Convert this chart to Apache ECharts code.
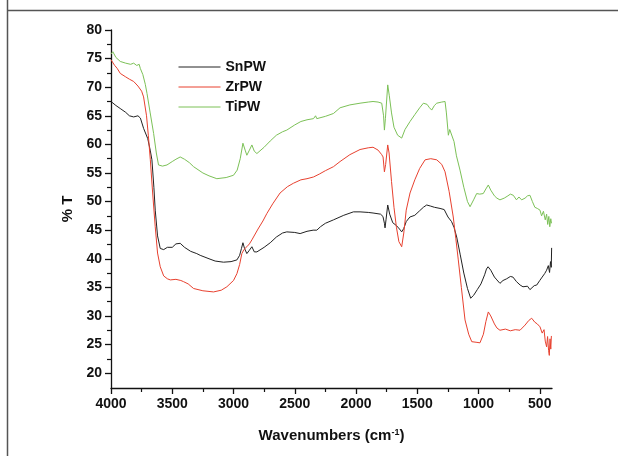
<!DOCTYPE html>
<html>
<head>
<meta charset="utf-8">
<script src="https://cdn.jsdelivr.net/npm/echarts@6/dist/echarts.min.js"></script>
<style>
  html, body { margin: 0; padding: 0; background: #fff; }
  #ftir { width: 618px; height: 456px; }
</style>
</head>
<body>
<div id="ftir"></div>
<script>
// tick positions
var xLabels = [4000, 3500, 3000, 2500, 2000, 1500, 1000, 500];
var xMinor = [3750, 3250, 2750, 2250, 1750, 1250, 750];
var yLabels = [20, 25, 30, 35, 40, 45, 50, 55, 60, 65, 70, 75, 80];
var yMinor = [22.5, 27.5, 32.5, 37.5, 42.5, 47.5, 52.5, 57.5, 62.5, 67.5, 72.5, 77.5];

var seriesNames = ["SnPW", "ZrPW", "TiPW"];

// [wavenumber, %T]
var snpw = [
  [4000,67.5],[3960,66.8],[3920,66.2],[3880,65.6],[3850,65.0],[3815,64.8],[3780,65.0],[3760,64.6],
  [3734,62.8],[3700,61.0],[3680,59.0],[3666,57.3],[3650,52.5],[3639,48.5],[3620,44.0],[3598,41.8],
  [3570,41.6],[3540,42.0],[3500,42.0],[3470,42.6],[3435,42.7],[3400,42.0],[3350,41.3],[3300,40.9],
  [3272,40.6],[3200,40.0],[3150,39.6],[3082,39.4],[3020,39.5],[2972,39.8],[2950,40.6],[2935,41.8],
  [2923,42.8],[2910,41.8],[2891,40.9],[2870,41.5],[2850,42.1],[2830,41.2],[2809,41.2],[2750,42.0],
  [2700,42.8],[2650,43.8],[2600,44.5],[2565,44.7],[2500,44.6],[2456,44.4],[2400,44.8],[2350,45.0],
  [2320,45.0],[2290,45.6],[2250,46.2],[2184,46.8],[2100,47.6],[2021,48.2],[1967,48.2],[1900,48.1],
  [1861,48.0],[1800,47.8],[1780,47.4],[1768,46.2],[1763,45.4],[1755,46.8],[1741,49.4],[1725,47.8],
  [1700,46.3],[1670,45.8],[1645,45.2],[1627,44.7],[1610,45.3],[1590,46.5],[1560,47.3],[1520,47.6],
  [1480,48.4],[1450,49.0],[1423,49.4],[1390,49.2],[1360,49.0],[1314,48.8],[1280,48.6],[1249,47.3],
  [1220,46.5],[1200,45.5],[1178,43.8],[1150,40.8],[1120,37.5],[1090,34.8],[1064,33.1],[1040,33.6],
  [1010,34.6],[980,35.6],[950,37.2],[935,38.2],[922,38.6],[900,38.0],[870,36.8],[850,36.3],
  [825,35.7],[800,36.2],[770,36.5],[740,36.9],[719,36.8],[690,36.0],[660,35.4],[637,35.1],
  [600,35.2],[580,34.6],[566,34.9],[545,35.3],[525,35.4],[500,36.2],[480,36.8],[460,37.4],
  [444,38.0],[430,38.8],[420,37.6],[412,39.5],[406,38.5],[403,41.9]
];
var zrpw = [
  [4000,74.8],[3970,73.8],[3950,73.3],[3924,72.4],[3880,71.8],[3850,71.4],[3815,71.0],[3780,70.2],
  [3750,69.3],[3734,68.3],[3710,65.0],[3695,61.5],[3679,57.3],[3660,51.5],[3639,45.6],[3620,41.0],
  [3598,38.6],[3570,37.0],[3540,36.5],[3516,36.3],[3470,36.4],[3430,36.2],[3408,36.0],[3370,35.6],
  [3326,34.8],[3250,34.4],[3163,34.2],[3100,34.5],[3054,35.1],[3000,36.2],[2972,37.4],[2950,39.0],
  [2932,40.9],[2915,41.6],[2891,42.1],[2870,42.6],[2850,43.3],[2800,45.2],[2760,46.6],[2728,47.9],
  [2680,49.6],[2620,51.5],[2560,52.6],[2511,53.2],[2450,53.8],[2400,54.0],[2347,54.3],[2300,54.8],
  [2250,55.4],[2184,56.1],[2130,57.0],[2050,58.2],[1967,59.1],[1900,59.4],[1861,59.5],[1820,59.0],
  [1790,58.2],[1779,57.8],[1768,55.2],[1758,56.5],[1741,59.9],[1730,58.5],[1710,53.5],[1690,49.0],
  [1670,45.5],[1650,43.0],[1627,42.1],[1610,44.5],[1590,48.5],[1559,51.5],[1520,53.8],[1480,55.8],
  [1436,57.3],[1390,57.5],[1341,57.3],[1300,56.5],[1273,55.2],[1240,51.8],[1206,47.3],[1185,43.5],
  [1165,39.8],[1140,35.0],[1110,29.3],[1080,26.8],[1055,25.5],[1020,25.4],[988,25.3],[960,26.8],
  [940,29.0],[920,30.7],[900,30.0],[870,28.6],[850,27.9],[825,27.5],[780,27.7],[740,27.4],
  [700,27.6],[661,27.5],[620,28.4],[590,29.2],[566,29.6],[540,28.9],[520,28.6],[498,28.1],
  [480,27.0],[465,27.6],[455,25.6],[444,24.6],[436,26.4],[428,24.0],[422,23.1],[416,26.0],
  [410,24.2],[405,26.5]
];
var tipw = [
  [4000,75.8],[3985,76.2],[3960,75.2],[3924,74.5],[3880,74.2],[3840,74.0],[3815,74.2],[3790,73.8],
  [3770,74.0],[3761,73.3],[3740,72.2],[3720,70.5],[3706,68.9],[3680,65.5],[3652,61.9],[3630,58.5],
  [3612,56.4],[3580,56.2],[3543,56.4],[3500,57.0],[3470,57.4],[3435,57.8],[3400,57.4],[3360,56.8],
  [3326,56.1],[3250,55.0],[3200,54.5],[3136,54.0],[3060,54.2],[3000,54.6],[2970,55.5],[2945,57.5],
  [2923,60.2],[2905,59.0],[2891,58.1],[2870,59.0],[2850,59.9],[2830,58.8],[2809,58.4],[2750,59.5],
  [2700,60.6],[2650,61.6],[2600,62.2],[2565,62.5],[2500,63.4],[2450,64.0],[2400,64.3],[2347,64.5],
  [2330,65.0],[2320,64.5],[2250,64.9],[2184,65.4],[2130,66.4],[2050,66.9],[1967,67.2],[1900,67.4],
  [1861,67.5],[1820,67.4],[1790,67.2],[1775,65.0],[1768,62.5],[1760,64.5],[1741,70.4],[1728,68.5],
  [1710,65.5],[1690,63.0],[1660,61.6],[1627,61.1],[1600,62.6],[1559,64.0],[1520,65.2],[1480,66.4],
  [1450,67.2],[1420,67.0],[1400,66.4],[1382,66.0],[1360,66.8],[1341,67.2],[1300,67.4],[1273,67.5],
  [1262,65.5],[1246,61.6],[1235,62.6],[1219,62.8],[1200,60.5],[1180,58.0],[1151,55.5],[1120,52.5],
  [1090,50.0],[1069,49.1],[1040,50.3],[1015,51.4],[990,51.3],[961,51.4],[940,52.2],[920,52.9],
  [900,52.0],[870,51.0],[850,50.6],[825,50.3],[790,50.6],[760,51.0],[740,51.3],[716,51.1],
  [690,50.3],[670,50.8],[648,50.3],[620,50.6],[600,51.0],[580,51.1],[560,50.0],[540,49.0],
  [520,48.8],[498,48.5],[485,47.5],[470,48.3],[455,46.8],[444,47.8],[435,46.0],[426,47.4],
  [418,45.6],[410,47.0],[404,46.2]
];

var chartDom = document.getElementById("ftir");
var myChart = echarts.init(chartDom);

var font = "'Liberation Sans', Arial, sans-serif";
var xMin = 400, xMax = 4000;
var yMin = 17.4, yMax = 80;

function lineSeries(name, data, color) {
  return {
    name: name,
    type: "line",
    data: data,
    showSymbol: false,
    symbol: "none",
    animation: false,
    lineStyle: { color: color, width: 1 },
    itemStyle: { color: color },
  };
}

var option = {
  backgroundColor: "#fff",
  animation: false,
  grid: { left: 111, right: 66, top: 30, bottom: 68 },
  legend: {
    orient: "vertical",
    left: 173,
    top: 55,
    itemWidth: 42,
    itemHeight: 14,
    itemGap: 6,
    data: seriesNames,
    itemStyle: { opacity: 0 },
    lineStyle: { width: 1 },
    textStyle: { fontFamily: font, fontWeight: "bold", fontSize: 14, color: "#111" },
  },
  xAxis: [
    {
      type: "value",
      min: xMin,
      max: xMax,
      inverse: true,
      position: "bottom",
      name: "Wavenumbers (cm{sup|-1})",
      nameLocation: "middle",
      nameGap: 40,
      nameTextStyle: {
        fontFamily: font, fontWeight: "bold", fontSize: 15, color: "#111",
        rich: { sup: { fontFamily: font, fontWeight: "bold", fontSize: 9, verticalAlign: "top", color: "#111" } },
      },
      axisLine: { show: true, onZero: false, lineStyle: { color: "#111", width: 1.3 } },
      axisTick: { show: true, inside: false, length: 6, customValues: xLabels, lineStyle: { color: "#111", width: 1.3 } },
      axisLabel: {
        customValues: xLabels, margin: 9, fontFamily: font, fontWeight: "bold", fontSize: 14, color: "#111",
        formatter: function (v) { return String(v); },
      },
      splitLine: { show: false },
    },
    {
      type: "value",
      min: xMin,
      max: xMax,
      inverse: true,
      position: "bottom",
      axisLine: { show: false, onZero: false },
      axisTick: { show: true, length: 4, customValues: xMinor, lineStyle: { color: "#111", width: 1.2 } },
      axisLabel: { show: false },
      splitLine: { show: false },
    },
  ],
  yAxis: [
    {
      type: "value",
      min: yMin,
      max: yMax,
      position: "left",
      name: "% T",
      nameLocation: "middle",
      nameGap: 36,
      nameTextStyle: { fontFamily: font, fontWeight: "bold", fontSize: 15, color: "#111" },
      axisLine: { show: true, onZero: false, lineStyle: { color: "#111", width: 1.3 } },
      axisTick: { show: true, length: 6, customValues: yLabels, lineStyle: { color: "#111", width: 1.3 } },
      axisLabel: { customValues: yLabels, margin: 9, fontFamily: font, fontWeight: "bold", fontSize: 14, color: "#111" },
      splitLine: { show: false },
    },
    {
      type: "value",
      min: yMin,
      max: yMax,
      position: "left",
      axisLine: { show: false, onZero: false },
      axisTick: { show: true, length: 4, customValues: yMinor, lineStyle: { color: "#111", width: 1.2 } },
      axisLabel: { show: false },
      splitLine: { show: false },
    },
  ],
  graphic: [
    // frame lines of the surrounding table cell
    { type: "line", shape: { x1: 8, y1: 10.5, x2: 618, y2: 10.5 }, style: { stroke: "#555", lineWidth: 1.5 } },
    { type: "line", shape: { x1: 7.5, y1: 0, x2: 7.5, y2: 456 }, style: { stroke: "#555", lineWidth: 1.5 } },
  ],
  series: [
    lineSeries(seriesNames[0], snpw, "#222222"),
    lineSeries(seriesNames[1], zrpw, "#e8412f"),
    lineSeries(seriesNames[2], tipw, "#7cc157"),
  ],
};

myChart.setOption(option);
</script>
</body>
</html>
